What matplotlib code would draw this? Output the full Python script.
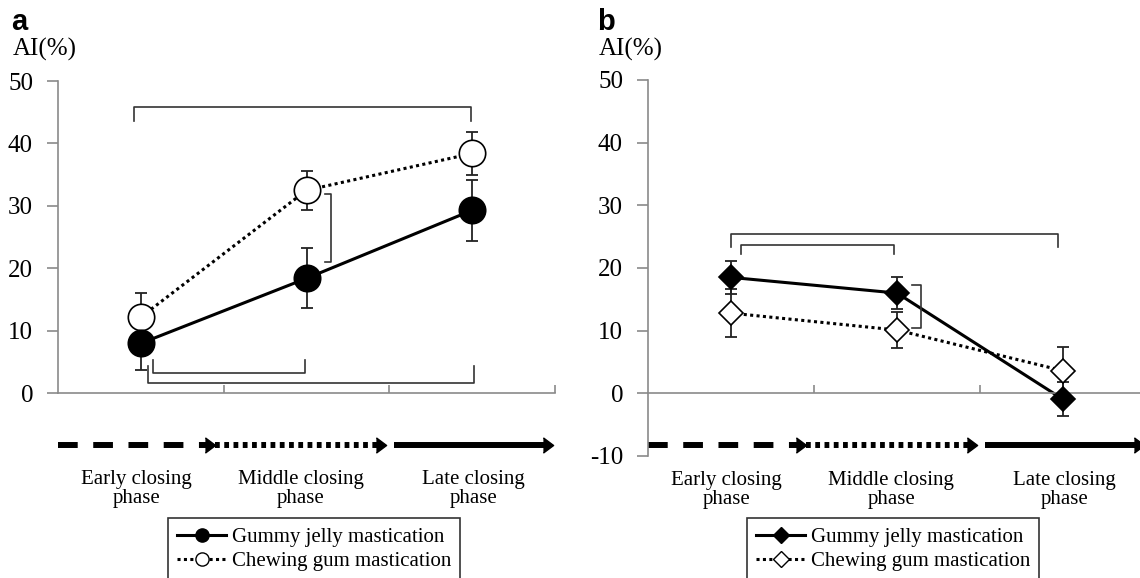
import matplotlib
matplotlib.use("Agg")
import matplotlib.pyplot as plt
from matplotlib.lines import Line2D

plt.rcParams["font.family"] = ["Liberation Serif", "DejaVu Serif"]

phases = ["Early closing\nphase", "Middle closing\nphase", "Late closing\nphase"]
x_pos = [0, 1, 2]

# panel a: AI (%) mean and SD
gummy_a = [8.0, 18.4, 29.3]
gummy_a_sd = [4.2, 4.8, 4.85]
gum_a = [12.2, 32.5, 38.4]
gum_a_sd = [3.9, 3.1, 3.4]

# panel b
gummy_b = [18.5, 16.0, -0.95]
gummy_b_sd = [2.6, 2.6, 2.7]
gum_b = [12.8, 10.1, 3.6]
gum_b_sd = [3.8, 2.8, 3.8]

# significance brackets (x_left, x_right, y, tip)
brackets_a = [(-0.04, 1.99, 45.8, -2.2), (0.075, 0.99, 3.2, 2.1), (0.045, 2.01, 1.6, 2.7)]
vbrackets_a = [(1.11, 1.145, 21.1, 31.9)]
brackets_b = [(0.0, 1.97, 25.5, -2.2), (0.06, 0.98, 23.7, -1.5)]
vbrackets_b = [(1.09, 1.145, 10.4, 17.3)]

# phase arrows below the axis (start, end)
arrows = [(-0.5, 0.45), (0.45, 1.48), (1.53, 2.49)]
arrow_styles = [(0, (3.3, 2.6)), (0, (0.8, 0.75)), "-"]
arrow_y = -8.3

GREY = "#8a8a8a"
head = [(-0.67, -1), (0.67, 0), (-0.67, 1)]


def draw_panel(ax, gj, gj_sd, cg, cg_sd, marker, ms, brackets, vbrackets):
    ax.errorbar(x_pos, cg, yerr=cg_sd, fmt="none", ecolor="#222222",
                elinewidth=1.3, capsize=4, capthick=1.3, zorder=1)
    ax.errorbar(x_pos, gj, yerr=gj_sd, fmt="none", ecolor="#222222",
                elinewidth=1.3, capsize=4, capthick=1.3, zorder=1)
    ax.plot(x_pos, cg, color="black", lw=2.2, ls=(0, (1, 1.1)), zorder=2)
    ax.plot(x_pos, gj, color="black", lw=2.2, zorder=2)
    ax.plot(x_pos, cg, ls="none", marker=marker, ms=ms, mfc="white",
            mec="black", mew=1.2, zorder=3)
    ax.plot(x_pos, gj, ls="none", marker=marker, ms=ms, mfc="black",
            mec="black", mew=1.2, zorder=4)
    for x1, x2, y, tip in brackets:
        ax.plot([x1, x1, x2, x2], [y + tip, y, y, y + tip], color="#333333",
                lw=1.2, clip_on=False)
    for x1, x2, y1, y2 in vbrackets:
        ax.plot([x1, x2, x2, x1], [y1, y1, y2, y2], color="#333333",
                lw=1.2, clip_on=False)
    for (s, e), st, name in zip(arrows, arrow_styles, phases):
        ax.plot([s, e - 0.035], [arrow_y, arrow_y], color="black", lw=4.3,
                ls=st, dash_capstyle="butt", solid_capstyle="butt", clip_on=False)
        ax.plot([e - 0.03], [arrow_y], marker=head, ms=11, color="black",
                ls="none", clip_on=False)
        ax.text((s + e) / 2, -15.4, name, ha="center", va="center",
                fontsize=15, linespacing=1.0)
    ax.set_xlim(-0.5, 2.5)
    ax.set_xticks([0.5, 1.5, 2.5])
    ax.set_xticklabels([])
    ax.yaxis.set_major_formatter(lambda v, p: f"{v:g}")
    ax.tick_params(axis="x", direction="in", length=6, color=GREY, width=1.2)
    ax.tick_params(axis="y", direction="out", length=8, color=GREY, width=1.2,
                   labelsize=18, pad=10)
    for side in ("top", "right"):
        ax.spines[side].set_visible(False)
    for side in ("left", "bottom"):
        ax.spines[side].set_color(GREY)
        ax.spines[side].set_linewidth(1.2)


fig = plt.figure(figsize=(11.4, 5.78), dpi=100)
W, H = 1140, 578

ax_a = fig.add_axes([58 / W, 1 - 393.3 / H, 497 / W, 312.3 / H])
draw_panel(ax_a, gummy_a, gummy_a_sd, gum_a, gum_a_sd, "o", 19,
           brackets_a, vbrackets_a)
ax_a.set_ylim(0, 50)
ax_a.set_yticks([0, 10, 20, 30, 40, 50])

ax_b = fig.add_axes([648 / W, 1 - 456 / H, 498 / W, 376 / H])
draw_panel(ax_b, gummy_b, gummy_b_sd, gum_b, gum_b_sd, "D", 12.5,
           brackets_b, vbrackets_b)
ax_b.set_ylim(-10, 50)
ax_b.set_yticks([-10, 0, 10, 20, 30, 40, 50])
ax_b.spines["bottom"].set_position(("data", 0))

for lab, x in (("a", 11), ("b", 597)):
    fig.text(x / W, 1 - 30 / H, lab, fontsize=21, fontweight="bold",
             family="Liberation Sans", va="baseline")
for x in (13, 599):
    fig.text(x / W, 1 - 49 / H, "AI(%)", fontsize=18, va="center")

for ax, marker, ms, lx in ((ax_a, "o", 9.5, 168), (ax_b, "D", 8, 747)):
    handles = [Line2D([], [], color="black", lw=2.2, marker=marker, ms=ms,
                      mfc="black", mec="black"),
               Line2D([], [], color="black", lw=2.2, ls=(0, (1, 1.1)),
                      marker=marker, ms=ms, mfc="white", mec="black")]
    leg = fig.legend(handles, ["Gummy jelly mastication", "Chewing gum mastication"],
                     loc="upper left", bbox_to_anchor=(lx / W, 1 - 518 / H),
                     fontsize=15, frameon=True, fancybox=False, edgecolor="black",
                     handlelength=2.35, handletextpad=0.25, borderpad=0.45,
                     labelspacing=0.22, borderaxespad=0)
    leg.get_frame().set_linewidth(1.2)

fig.savefig("out.png", dpi=100)
